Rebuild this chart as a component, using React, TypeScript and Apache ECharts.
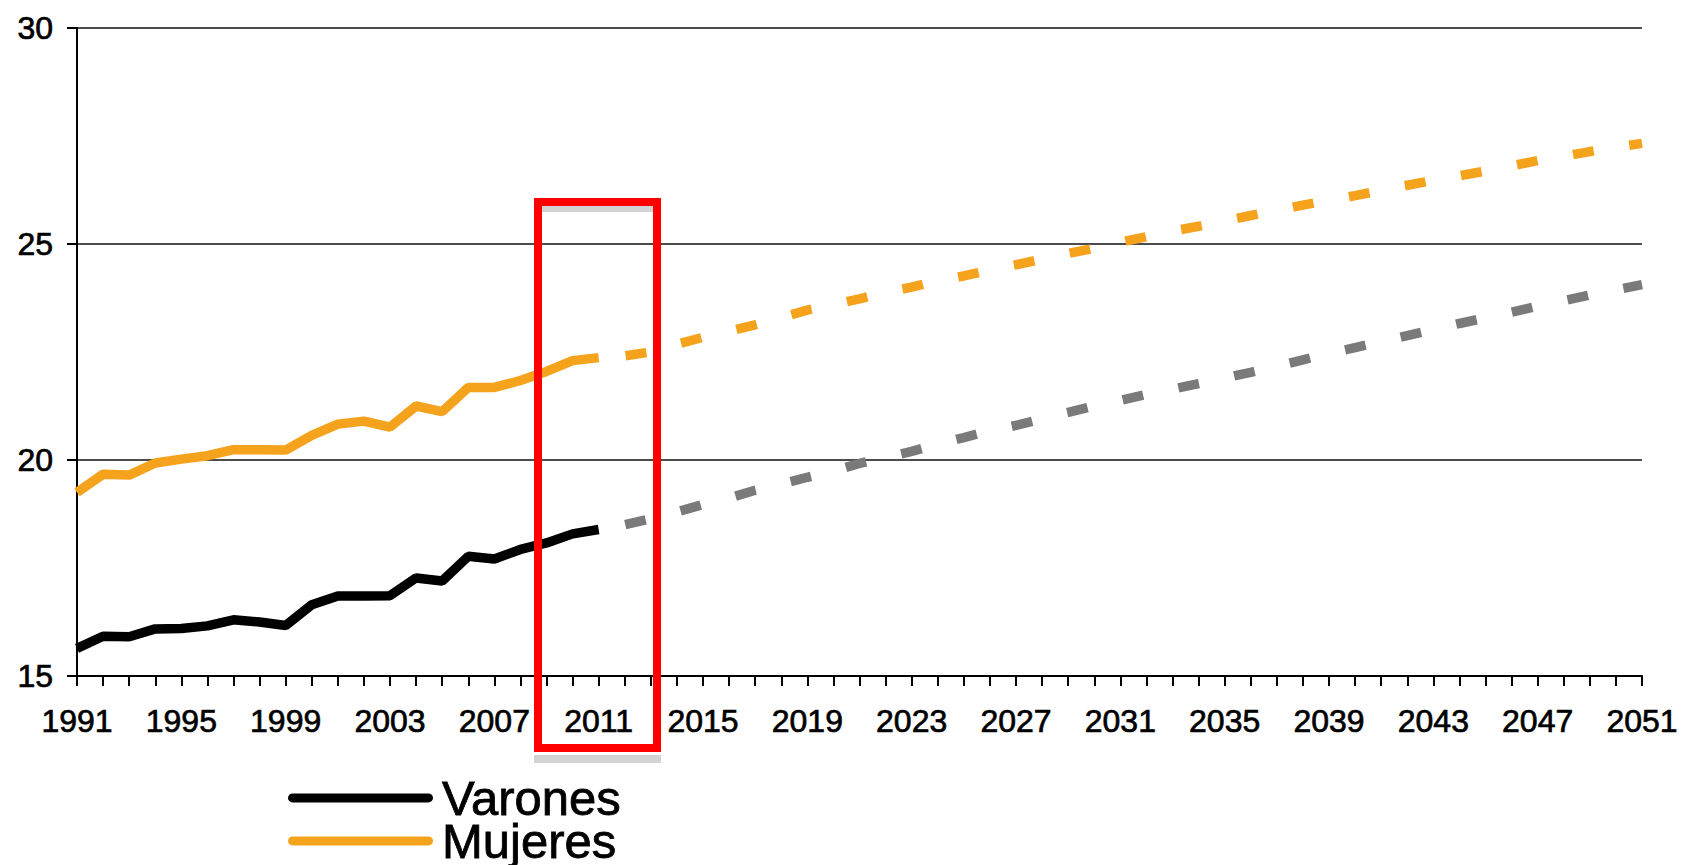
import React, { useEffect, useRef } from "react";
import * as echarts from "echarts";

const years: string[] = [];
for (let y = 1991; y <= 2051; y++) years.push(String(y));

const varones = [15.64, 15.92, 15.91, 16.09, 16.1, 16.16, 16.3, 16.25, 16.17, 16.65, 16.85, 16.85, 16.86, 17.27, 17.2, 17.77, 17.71, 17.93, 18.08, 18.29, 18.39];
const mujeres = [19.25, 19.67, 19.65, 19.93, 20.02, 20.1, 20.24, 20.24, 20.23, 20.57, 20.83, 20.9, 20.76, 21.25, 21.12, 21.68, 21.68, 21.84, 22.05, 22.3, 22.37];

// projections 2011..2051
const varonesProy = [18.39, 18.5, 18.64, 18.8, 18.97, 19.12, 19.3, 19.44, 19.6, 19.75, 19.92, 20.06, 20.2, 20.37, 20.52, 20.68, 20.8, 20.95, 21.1, 21.25, 21.38, 21.52, 21.64, 21.77, 21.9, 22.03, 22.17, 22.32, 22.47, 22.6, 22.74, 22.88, 23.02, 23.16, 23.29, 23.42, 23.56, 23.69, 23.82, 23.94, 24.06];
const mujeresProy = [22.37, 22.41, 22.5, 22.68, 22.84, 22.98, 23.13, 23.3, 23.47, 23.6, 23.73, 23.88, 24.0, 24.15, 24.26, 24.4, 24.52, 24.65, 24.78, 24.9, 25.04, 25.17, 25.3, 25.41, 25.53, 25.66, 25.78, 25.9, 26.01, 26.12, 26.24, 26.36, 26.47, 26.58, 26.69, 26.81, 26.93, 27.03, 27.14, 27.24, 27.33];

const projStart = years.indexOf("2011");
const pad = (arr: number[]) => [...Array(projStart).fill(null), ...arr];

const ORANGE = "#F5A31C";
const GRAY = "#7A7A7A";
const FONT = "Liberation Sans, Arial, sans-serif";

export default function App() {
  const ref = useRef<HTMLDivElement>(null);
  useEffect(() => {
    if (!ref.current) return;
    const chart = echarts.init(ref.current, null, { renderer: "svg" });
    const legendIcon = "path://M4.5,0 L140.5,0 A4.5,4.5 0 0 1 140.5,9 L4.5,9 A4.5,4.5 0 0 1 4.5,0 Z";
    const legendBase = {
      orient: "vertical",
      left: 288,
      itemWidth: 145,
      itemHeight: 9,
      itemGap: 0,
      padding: 0,
      textStyle: {
        fontSize: 49,
        fontFamily: FONT,
        color: "#000",
        lineHeight: 42,
        padding: [0, 0, 0, 4],
        textBorderColor: "#000",
        textBorderWidth: 0.8,
      },
    };
    const axisText = {
      fontSize: 32,
      fontFamily: FONT,
      color: "#000",
      textBorderColor: "#000",
      textBorderWidth: 0.7,
    };
    chart.setOption({
      animation: false,
      backgroundColor: "#ffffff",
      grid: { left: 77, right: 44, top: 28, bottom: 189, containLabel: false },
      legend: [
        { ...legendBase, top: 773, data: [{ name: "Varones", icon: legendIcon, itemStyle: { color: "#000" } }] },
        { ...legendBase, top: 816, data: [{ name: "Mujeres", icon: legendIcon, itemStyle: { color: ORANGE } }] },
      ],
      xAxis: {
        type: "category",
        data: years,
        boundaryGap: false,
        axisLine: { lineStyle: { color: "#000", width: 2 } },
        axisTick: { show: true, interval: 0, length: 10, lineStyle: { color: "#000", width: 2 } },
        axisLabel: { ...axisText, interval: 3, margin: 29 },
        splitLine: { show: false },
      },
      yAxis: {
        type: "value",
        min: 15,
        max: 30,
        interval: 5,
        axisLine: { show: true, lineStyle: { color: "#000", width: 2 } },
        axisTick: { show: true, length: 10, lineStyle: { color: "#000", width: 2 } },
        axisLabel: { ...axisText, margin: 24 },
        splitLine: { show: true, lineStyle: { color: "#111", width: 1.6 } },
      },
      series: [
        {
          name: "Varones proyección",
          type: "line",
          data: pad(varonesProy),
          symbol: "none",
          lineStyle: { color: GRAY, width: 9.5, type: [21, 36], dashOffset: 30, cap: "butt" },
        },
        {
          name: "Mujeres proyección",
          type: "line",
          data: pad(mujeresProy),
          symbol: "none",
          lineStyle: { color: ORANGE, width: 9.5, type: [21, 36], dashOffset: 30, cap: "butt" },
        },
        {
          name: "Varones",
          type: "line",
          data: varones,
          symbol: "none",
          itemStyle: { color: "#000" },
          lineStyle: { color: "#000", width: 9.5 },
        },
        {
          name: "Mujeres",
          type: "line",
          data: mujeres,
          symbol: "none",
          itemStyle: { color: ORANGE },
          lineStyle: { color: ORANGE, width: 9.5 },
        },
      ],
      graphic: [
        { type: "rect", z: 100, shape: { x: 542, y: 206, width: 112, height: 6 }, style: { fill: "#d3d3d3" } },
        { type: "rect", z: 100, shape: { x: 534, y: 755, width: 127, height: 8 }, style: { fill: "#d3d3d3" } },
        { type: "rect", z: 101, shape: { x: 538, y: 202, width: 119, height: 546 }, style: { fill: "none", stroke: "#ff0000", lineWidth: 8 } },
      ],
    });
    return () => chart.dispose();
  }, []);
  return <div ref={ref} style={{ position: "absolute", left: 0, top: 0, width: 1686, height: 865 }} />;
}
